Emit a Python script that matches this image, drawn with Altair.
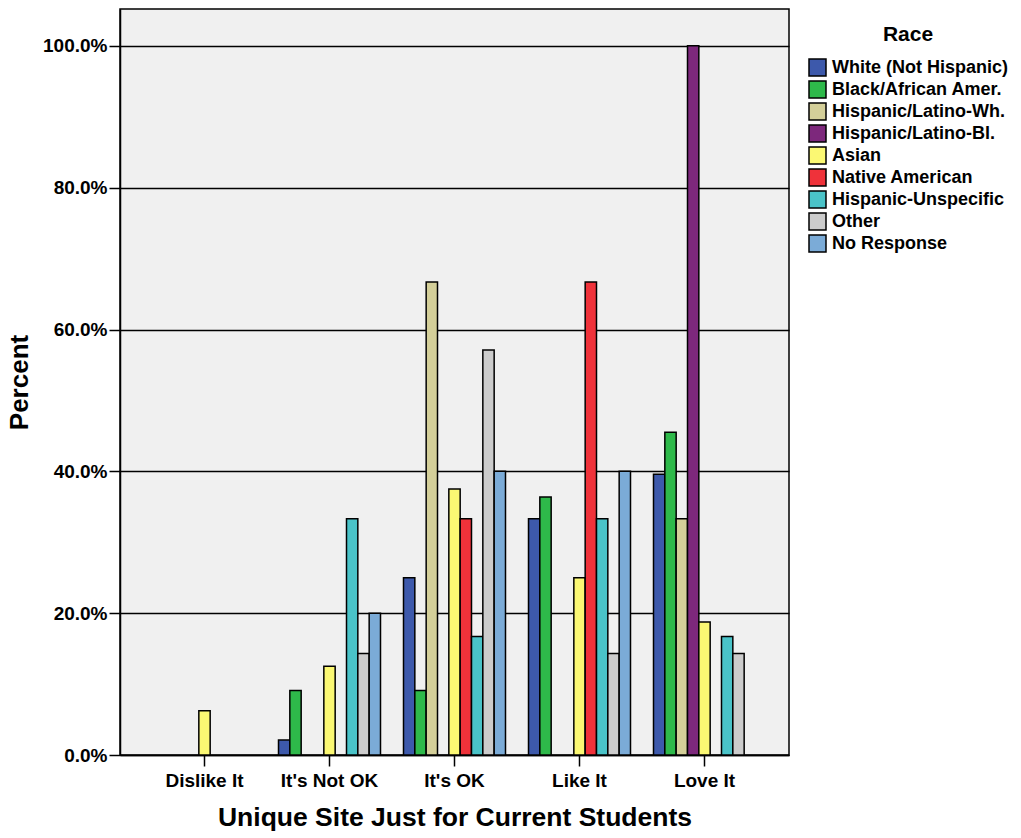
import altair as alt
import pandas as pd

categories = ["Dislike It", "It's Not OK", "It's OK", "Like It", "Love It"]
races = [
    "White (Not Hispanic)",
    "Black/African Amer.",
    "Hispanic/Latino-Wh.",
    "Hispanic/Latino-Bl.",
    "Asian",
    "Native American",
    "Hispanic-Unspecific",
    "Other",
    "No Response",
]
colors = ["#3D59AB", "#2EB94A", "#D4CF99", "#7D287C", "#FBF873",
          "#EF323A", "#4AC3C8", "#CCCCCC", "#7BABD7"]

# percent of each race group per rating (None = no bar)
white = [None, 2.1, 25.0, 33.3, 39.6]
black = [None, 9.1, 9.1, 36.4, 45.5]
hisp_wh = [None, None, 66.7, None, 33.3]
hisp_bl = [None, None, None, None, 100.0]
asian = [6.25, 12.5, 37.5, 25.0, 18.75]
native = [None, None, 33.3, 66.7, None]
hisp_unspec = [None, 33.3, 16.7, 33.3, 16.7]
other = [None, 14.3, 57.1, 14.3, 14.3]
no_resp = [None, 20.0, 40.0, 40.0, None]

series = [white, black, hisp_wh, hisp_bl, asian, native, hisp_unspec, other, no_resp]
rows = []
for race, vals in zip(races, series):
    for cat, v in zip(categories, vals):
        if v is not None:
            rows.append({"category": cat, "race": race, "value": v})
df = pd.DataFrame(rows)

FONT = "Liberation Sans"

chart = alt.Chart(df).mark_bar(stroke="black", strokeWidth=1.5).encode(
    x=alt.X(
        "category:N",
        sort=categories,
        scale=alt.Scale(domain=categories, paddingInner=0.184, paddingOuter=0.268),
        axis=alt.Axis(
            title="Unique Site Just for Current Students",
            labelAngle=0,
            grid=False,
            tickSize=11,
            tickColor="black",
            tickWidth=1.5,
            domainColor="black",
            domainWidth=1.5,
            labelPadding=5,
            labelFont=FONT,
            labelFontSize=19,
            labelFontWeight="bold",
            labelColor="black",
            titleFont=FONT,
            titleFontSize=26.5,
            titleFontWeight="bold",
            titleColor="black",
            titlePadding=14,
        ),
    ),
    xOffset=alt.XOffset("race:N", scale=alt.Scale(domain=races, paddingInner=0, paddingOuter=0)),
    y=alt.Y(
        "value:Q",
        scale=alt.Scale(domain=[0, 105.2], nice=False, zero=True),
        axis=alt.Axis(
            title="Percent",
            values=[0, 20, 40, 60, 80, 100],
            labelExpr="format(datum.value, '.1f') + '%'",
            grid=True,
            gridColor="black",
            gridWidth=1.3,
            gridOpacity=1,
            tickSize=11,
            tickColor="black",
            tickWidth=1.5,
            domainColor="black",
            domainWidth=1.5,
            labelPadding=2,
            labelFont=FONT,
            labelFontSize=19,
            labelFontWeight="bold",
            labelColor="black",
            titleFont=FONT,
            titleFontSize=26,
            titleFontWeight="bold",
            titleColor="black",
            titlePadding=10,
        ),
    ),
    color=alt.Color(
        "race:N",
        scale=alt.Scale(domain=races, range=colors),
        legend=alt.Legend(
            title="Race",
            orient="none",
            legendX=688,
            legendY=15,
            symbolType="square",
            symbolSize=289,
            symbolStrokeColor="black",
            symbolStrokeWidth=1.5,
            symbolOpacity=1,
            labelFont=FONT,
            labelFontSize=18,
            labelFontWeight="bold",
            labelColor="black",
            labelLimit=400,
            labelOffset=5,
            titleFont=FONT,
            titleFontSize=21,
            titleFontWeight="bold",
            titleColor="black",
            titleAnchor="middle",
            titlePadding=13,
            rowPadding=-1,
            padding=0,
        ),
    ),
).properties(
    width=669,
    height=746,
    background="white",
    padding={"left": 112, "top": 1, "right": 224, "bottom": 79},
    autosize=alt.AutoSizeParams(type="none"),
).configure_view(
    fill="#F0F0F0",
    stroke="black",
    strokeWidth=1.5,
)

chart.save("out.html", embed_options={"renderer": "svg", "actions": False})
